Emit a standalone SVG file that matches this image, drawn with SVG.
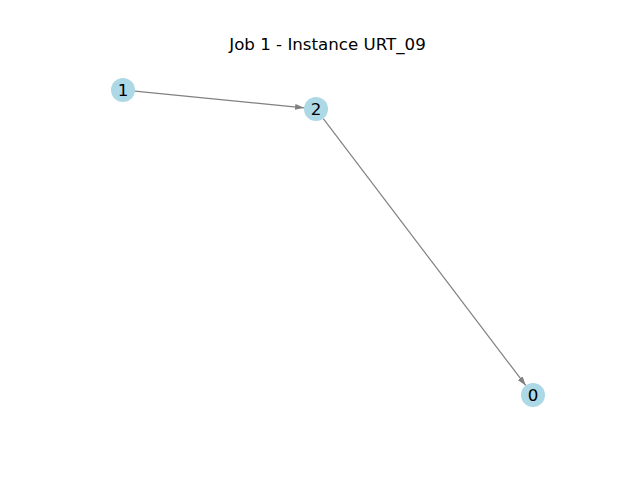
<svg xmlns="http://www.w3.org/2000/svg" width="640" height="480" viewBox="0 0 640 480">
<style>
.node circle{fill:#add8e6;}
.node text{font-family:"DejaVu Sans",sans-serif;font-size:16.67px;fill:#000;text-anchor:middle;dominant-baseline:central;}
.edge{stroke:#808080;stroke-width:1.2;fill:none;marker-end:url(#arr);}
.title{font-family:"DejaVu Sans",sans-serif;font-size:16.67px;fill:#000;text-anchor:middle;}
</style>
<defs>
<marker id="arr" viewBox="0 0 9 6" refX="9" refY="3" markerWidth="9" markerHeight="6" markerUnits="userSpaceOnUse" orient="auto">
<path d="M0,0 L9,3 L0,6 Z" fill="#808080"/>
</marker>
</defs>
<rect width="640" height="480" fill="#fff"/>
<text class="title" x="327.5" y="50">Job 1 - Instance URT_09</text>
<g id="edges">
<line class="edge" x1="134.9" y1="91.2" x2="304.1" y2="107.8"/>
<line class="edge" x1="323.3" y1="118.6" x2="525.7" y2="385.4"/>
</g>
<g id="node-1" class="node"><circle cx="123" cy="90" r="12"/><text x="123" y="90">1</text></g>
<g id="node-2" class="node"><circle cx="316" cy="109" r="12"/><text x="316" y="109">2</text></g>
<g id="node-0" class="node"><circle cx="533" cy="395" r="12"/><text x="533" y="395">0</text></g>
</svg>
